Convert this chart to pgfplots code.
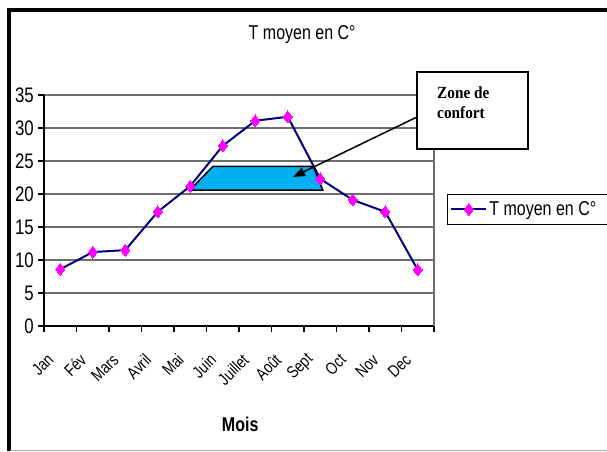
\documentclass[border=0pt]{standalone}
\usepackage{fontspec}
\setmainfont{Liberation Sans}[FakeStretch=0.8]
\newfontfamily\timesfont{Liberation Serif}[FakeStretch=0.9]
\usepackage{pgfplots}
\pgfplotsset{compat=1.18}
\usetikzlibrary{arrows.meta}
\definecolor{navyline}{RGB}{0,0,128}
\definecolor{mag}{RGB}{255,0,255}
\definecolor{zone}{RGB}{0,176,240}
\definecolor{gridgray}{RGB}{110,110,110}
\newcommand{\bigf}{\fontsize{20}{24}\selectfont}
\begin{document}
\begin{tikzpicture}
\path[use as bounding box] (0pt,0pt) rectangle (607pt,451pt);
\fill[white] (0pt,0pt) rectangle (607pt,451pt);
\draw[line width=4pt] (8.5pt,0pt) -- (8.5pt,440.5pt) -- (612pt,440.5pt);
\draw[black!35, line width=1pt] (10pt,0.8pt) -- (607pt,0.8pt);
\begin{axis}[
  at={(44pt,125pt)}, anchor=south west,
  scale only axis, width=390pt, height=231pt,
  xmin=-0.5, xmax=11.5, ymin=0, ymax=35,
  axis x line*=bottom, axis y line*=left,
  axis line style={black, line width=1.2pt, -},
  /pgf/number format/assume math mode=true,
  ytick={0,5,...,35},
  xtick={0,...,11},
  xticklabels={Jan,Fév,Mars,Avril,Mai,Juin,Juillet,Août,Sept,Oct,Nov,Dec},
  minor xtick={-0.5,0.5,...,11.5},
  tick align=outside,
  tick style={black, line width=1.2pt},
  major tick length=6pt, minor tick length=6pt,
  major x tick style={draw=none},
  ymajorgrids, grid style={gridgray, line width=1.2pt},
  yticklabel style={font=\fontsize{21}{24}\selectfont, inner sep=0pt, xshift=-4pt},
  xticklabel style={font=\fontsize{17}{20}\selectfont, inner sep=0pt, rotate=45, anchor=east, xshift=-24.5pt, yshift=-10.9pt},
  clip=false,
  title={T moyen en C°},
  title style={at={(0.662,1.234)}, anchor=center, font=\bigf},
  xlabel={Mois},
  xlabel style={at={(axis description cs:0.503,-0.424)}, anchor=center, font=\bigf\bfseries},
  legend style={at={(rel axis cs:1.033,0.571)}, anchor=north west, draw=black, line width=1pt, font=\bigf, inner xsep=3pt, inner ysep=5pt},
  legend cell align=left,
  legend image code/.code={\draw[mark repeat=2,mark phase=2,#1] plot coordinates {(0pt,0pt) (17.5pt,0pt) (35pt,0pt)};},
]
\addplot[navyline, line width=2pt, mark=diamond*, mark size=6pt, mark options={fill=mag, draw=mag, line width=0pt}] coordinates {(0,8.6) (1,11.2) (2,11.5) (3,17.3) (4,21.2) (5,27.3) (6,31.1) (7,31.7) (8,22.3) (9,19.1) (10,17.3) (11,8.5)};
\addlegendentry{\makebox[140pt][l]{T moyen en C°}}
\addplot[forget plot, draw=black, line width=1.5pt, fill=zone] coordinates {(3.99,20.6) (4.7,24.2) (7.78,24.2) (8.08,20.6)} -- cycle;
\draw[gridgray, line width=1.2pt] (rel axis cs:1,0) -- (rel axis cs:1,1);
\end{axis}
\draw[black, line width=1.5pt, fill=white] (417pt,302pt) rectangle (528pt,379pt);
\node[anchor=north west, align=left, font=\timesfont\bfseries\fontsize{17}{20}\selectfont, inner sep=0pt] at (437pt,364pt) {Zone de\\confort};
\draw[-{Triangle[length=12pt,width=9pt]}, line width=1.5pt] (417pt,334pt) -- (293pt,274pt);
\end{tikzpicture}
\end{document}
